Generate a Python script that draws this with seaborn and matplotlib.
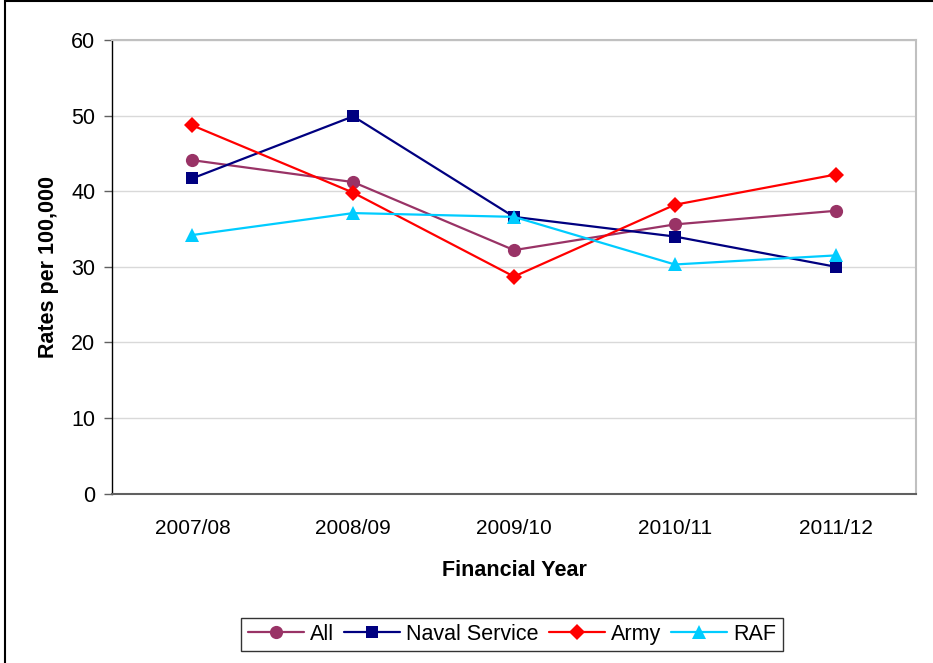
import numpy as np
import pandas as pd
import matplotlib
matplotlib.use("Agg")
import matplotlib.pyplot as plt
import seaborn as sns
from matplotlib.lines import Line2D

years = ["2007/08", "2008/09", "2009/10", "2010/11", "2011/12"]
all_vals = [44.1, 41.2, 32.2, 35.6, 37.4]
naval_vals = [41.7, 49.9, 36.6, 34.0, 30.0]
army_vals = [48.7, 39.8, 28.7, 38.2, 42.2]
raf_vals = [34.2, 37.1, 36.6, 30.3, 31.5]
series_names = ["All", "Naval Service", "Army", "RAF"]
yticks = [0, 10, 20, 30, 40, 50, 60]

sns.set_theme(style="white")
plt.rcParams['font.family'] = ['Liberation Sans', 'DejaVu Sans']
plt.rcParams['text.color'] = '#000000'
plt.rcParams['axes.labelcolor'] = '#000000'
plt.rcParams['xtick.color'] = '#000000'
plt.rcParams['ytick.color'] = '#000000'

fig = plt.figure(figsize=(9.33, 6.63), dpi=100)
ax = fig.add_axes([112/933, 1-493.5/663, (916-112)/933, (493.5-40)/663])

df = pd.DataFrame({
    "x": np.tile(np.arange(len(years)), 4),
    "value": all_vals + naval_vals + army_vals + raf_vals,
    "series": np.repeat(series_names, len(years)),
})
colors = {"All": "#993366", "Naval Service": "#000080", "Army": "#FF0000", "RAF": "#00CCFF"}
markers = {"All": "o", "Naval Service": "s", "Army": "D", "RAF": "^"}
msizes = {"All": 9.5, "Naval Service": 9, "Army": 8.5, "RAF": 10}

for name in series_names:
    sub = df[df["series"] == name]
    sns.lineplot(data=sub, x="x", y="value", ax=ax, color=colors[name],
                 marker=markers[name], markersize=msizes[name], markeredgewidth=0,
                 linewidth=1.6, label=name, legend=False, zorder=3)

ax.set_xlim(-0.5, len(years) - 0.5)
ax.set_ylim(0, 60)
ax.set_yticks(yticks)
ax.set_yticklabels([str(t) for t in yticks], fontsize=15.5)
ax.set_xticks(np.arange(len(years)))
ax.set_xticklabels(years, fontsize=15)
ax.set_xticks(np.arange(len(years) + 1) - 0.5, minor=True)
ax.tick_params(axis="x", which="major", length=0, pad=18)
ax.tick_params(axis="x", which="minor", length=6, width=1, color="#000000", direction="out")
ax.tick_params(axis="y", which="major", length=6, width=1, color="#606060", direction="out", pad=6, left=True)
ax.yaxis.grid(True, color="#D9D9D9", linewidth=1)
ax.set_axisbelow(True)

for s in ["top", "right"]:
    ax.spines[s].set_color("#C0C0C0")
    ax.spines[s].set_linewidth(1.5)
ax.spines["left"].set_color("#000000")
ax.spines["left"].set_linewidth(1)
ax.spines["bottom"].set_color("#606060")
ax.spines["bottom"].set_linewidth(1.5)

ax.set_xlabel("Financial Year", fontsize=15.5, fontweight="bold", labelpad=16)
ax.set_ylabel("Rates per 100,000", fontsize=15.5, fontweight="bold", labelpad=9)

handles, labels = ax.get_legend_handles_labels()
leg = fig.legend(handles, labels, loc="center", bbox_to_anchor=(512/933, 1-634.5/663),
                 ncol=4, fontsize=15.5, frameon=True, fancybox=False, handlelength=2.6,
                 handletextpad=0.3, columnspacing=0.45, borderpad=0.3)
leg.get_frame().set_edgecolor("#000000")
leg.get_frame().set_linewidth(1)

fig.lines.append(Line2D([4.5/933, 4.5/933], [0, 1], transform=fig.transFigure,
                        color="#000000", linewidth=1.5))
fig.lines.append(Line2D([4.5/933, 1], [0.999, 0.999], transform=fig.transFigure,
                        color="#000000", linewidth=1.5))

fig.savefig("out.png", dpi=100)
